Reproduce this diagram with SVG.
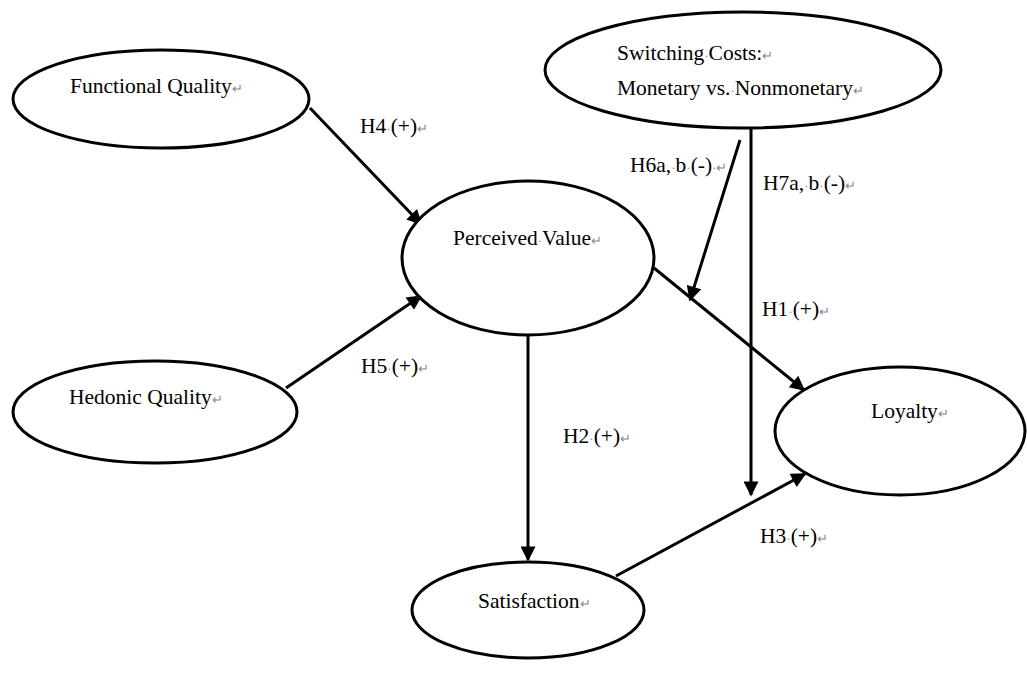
<svg xmlns="http://www.w3.org/2000/svg" width="1027" height="677" viewBox="0 0 1027 677">
<style>
.n{fill:#fff;stroke:#000;stroke-width:3}
.t{font-family:"Liberation Serif","Times New Roman",serif;font-size:21.5px;fill:#000}
.m{fill:#888;font-size:13px}
.c{stroke:#000;stroke-width:3;fill:none}
</style>
<defs>
<marker id="a" viewBox="0 0 10 10" refX="9" refY="5" markerWidth="6" markerHeight="5" orient="auto" markerUnits="strokeWidth">
<path d="M0,0 L10,5 L0,10 z" fill="#000"/>
</marker>
</defs>
<rect width="1027" height="677" fill="#fff"/>
<g id="connectors">
<line class="c" x1="310" y1="108" x2="421" y2="224" marker-end="url(#a)"/>
<line class="c" x1="286" y1="388" x2="421" y2="296" marker-end="url(#a)"/>
<line class="c" x1="654" y1="268" x2="804" y2="390" marker-end="url(#a)"/>
<line class="c" x1="528" y1="334" x2="528" y2="560" marker-end="url(#a)"/>
<line class="c" x1="616" y1="576" x2="805" y2="474" marker-end="url(#a)"/>
<line class="c" x1="740" y1="140" x2="690" y2="300" marker-end="url(#a)"/>
<line class="c" x1="751" y1="128" x2="751" y2="495" marker-end="url(#a)"/>
<text class="t" x="360" y="133">H4<tspan class="m">·</tspan>(+)<tspan class="m">↵</tspan></text>
<text class="t" x="361" y="373">H5<tspan class="m">·</tspan>(+)<tspan class="m">↵</tspan></text>
<text class="t" x="630" y="172">H6a,<tspan class="m">·</tspan>b<tspan class="m">·</tspan>(-)<tspan class="m">·</tspan><tspan class="m">↵</tspan></text>
<text class="t" x="763" y="190">H7a,<tspan class="m">·</tspan>b<tspan class="m">·</tspan>(-)<tspan class="m">↵</tspan></text>
<text class="t" x="762" y="316">H1<tspan class="m">·</tspan>(+)<tspan class="m">↵</tspan></text>
<text class="t" x="563" y="443">H2<tspan class="m">·</tspan>(+)<tspan class="m">↵</tspan></text>
<text class="t" x="760" y="543">H3<tspan class="m">·</tspan>(+)<tspan class="m">↵</tspan></text>
</g>
<g id="functional">
<ellipse class="n" cx="161" cy="99" rx="148" ry="49"/>
<text class="t" x="70" y="93">Functional Quality<tspan class="m">↵</tspan></text>
</g>
<g id="switching">
<ellipse class="n" cx="743" cy="70" rx="198" ry="58"/>
<text class="t" x="617" y="60">Switching<tspan class="m">·</tspan>Costs:<tspan class="m">↵</tspan></text>
<text class="t" x="617" y="95">Monetary vs.<tspan class="m">·</tspan>Nonmonetary<tspan class="m">↵</tspan></text>
</g>
<g id="perceived">
<ellipse class="n" cx="528" cy="258" rx="126" ry="77"/>
<text class="t" x="453" y="245">Perceived<tspan class="m">·</tspan>Value<tspan class="m">↵</tspan></text>
</g>
<g id="hedonic">
<ellipse class="n" cx="155" cy="412" rx="142" ry="51"/>
<text class="t" x="69" y="404">Hedonic Quality<tspan class="m">↵</tspan></text>
</g>
<g id="loyalty">
<ellipse class="n" cx="900" cy="431" rx="125" ry="64"/>
<text class="t" x="871" y="418">Loyalty<tspan class="m">↵</tspan></text>
</g>
<g id="satisfaction">
<ellipse class="n" cx="528" cy="610" rx="116" ry="48"/>
<text class="t" x="478" y="608">Satisfaction<tspan class="m">↵</tspan></text>
</g>
</svg>
